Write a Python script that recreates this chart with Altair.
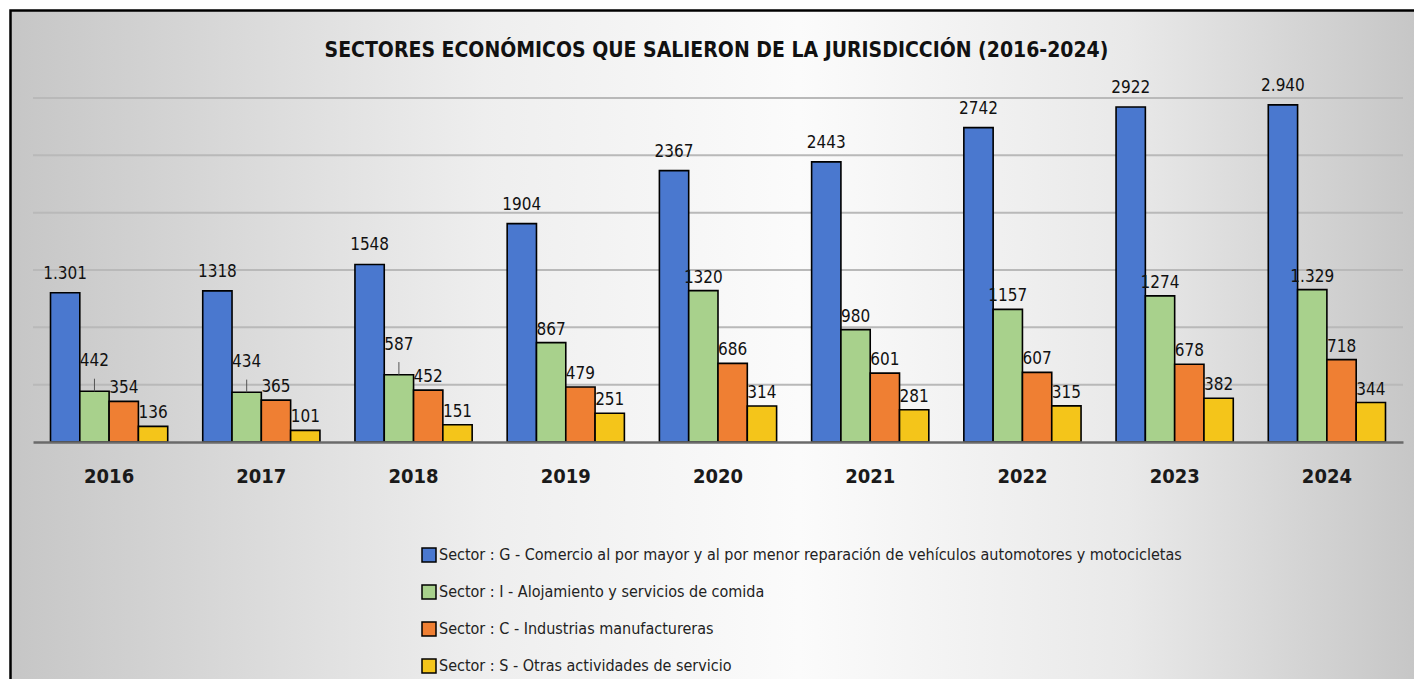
import altair as alt
import pandas as pd

# ---------------- data ----------------
YEARS = ["2016", "2017", "2018", "2019", "2020", "2021", "2022", "2023", "2024"]
SECTORS = [
    "Sector : G - Comercio al por mayor y al por menor  reparación de vehículos automotores y motocicletas",
    "Sector : I - Alojamiento y servicios de comida",
    "Sector : C - Industrias manufactureras",
    "Sector : S - Otras actividades de servicio",
]
SECTOR_G = [1301, 1318, 1548, 1904, 2367, 2443, 2742, 2922, 2940]
SECTOR_I = [442, 434, 587, 867, 1320, 980, 1157, 1274, 1329]
SECTOR_C = [354, 365, 452, 479, 686, 601, 607, 678, 718]
SECTOR_S = [136, 101, 151, 251, 314, 281, 315, 382, 344]
LABEL_G = ["1.301", "1318", "1548", "1904", "2367", "2443", "2742", "2922", "2.940"]
LABEL_I = ["442", "434", "587", "867", "1320", "980", "1157", "1274", "1.329"]
LABEL_C = [str(v) for v in SECTOR_C]
LABEL_S = [str(v) for v in SECTOR_S]
# green labels drawn with a leader line in the original
LEADER_YEARS_I = ["2016", "2017", "2018"]
GRID = [500, 1000, 1500, 2000, 2500, 3000]
TITLE = "SECTORES ECONÓMICOS QUE SALIERON DE LA JURISDICCIÓN (2016-2024)"

COLORS = ["#4a78cf", "#a8d18c", "#ef7f33", "#f4c51a"]
FONT = "'Liberation Sans Narrow', 'Arial Narrow', 'DejaVu Sans Condensed', sans-serif"

rows = []
for si, (sector, vals, labs) in enumerate(zip(SECTORS, [SECTOR_G, SECTOR_I, SECTOR_C, SECTOR_S],
                                              [LABEL_G, LABEL_I, LABEL_C, LABEL_S])):
    for y, v, l in zip(YEARS, vals, labs):
        kind = "normal"
        if si == 0:
            kind = "top"
        elif si == 1 and y in LEADER_YEARS_I:
            kind = "leader"
        rows.append({"year": y, "sector": sector, "value": v, "label": l, "kind": kind})
df = pd.DataFrame(rows)

W, H = 1370, 344

# background panel with gradient and frame
bg = alt.Chart(pd.DataFrame({"k": [0]})).mark_rect(
    fill=alt.LinearGradient(
        gradient="linear",
        stops=[
            alt.GradientStop(color="#c6c6c6", offset=0),
            alt.GradientStop(color="#eeeeee", offset=0.33),
            alt.GradientStop(color="#fbfbfb", offset=0.55),
            alt.GradientStop(color="#e9e9e9", offset=0.78),
            alt.GradientStop(color="#c3c3c3", offset=1),
        ],
        x1=0, x2=1, y1=0, y2=0,
    ),
    stroke="black",
    strokeWidth=2.5,
).encode(
    x=alt.value(-22.5), x2=alt.value(W + 40),
    y=alt.value(-87.5), y2=alt.value(H + 260),
)

yscale = alt.Scale(domain=[0, 3000], nice=False)

grid = alt.Chart(pd.DataFrame({"g": GRID})).mark_rule(
    color="#b9b9b9", strokeWidth=2
).encode(y=alt.Y("g:Q", scale=yscale, axis=None))

base = alt.Chart(df).encode(
    x=alt.X(
        "year:N",
        sort=YEARS,
        scale=alt.Scale(paddingInner=0.23, paddingOuter=0.115),
        axis=alt.Axis(
            title=None, ticks=False, tickSize=0, labelAngle=0,
            labelFont=FONT, labelFontSize=20, labelFontWeight="bold",
            labelColor="#1a1a1a", labelPadding=24,
            domainColor="#6a6a6a", domainWidth=2.5, zindex=1, grid=False,
        ),
    ),
    xOffset=alt.XOffset("sector:N", sort=SECTORS,
                        scale=alt.Scale(paddingInner=0, paddingOuter=0)),
    y=alt.Y("value:Q", scale=yscale, axis=None),
)

bars = base.mark_bar(stroke="black", strokeWidth=1.6).encode(
    color=alt.Color(
        "sector:N",
        sort=SECTORS,
        scale=alt.Scale(domain=SECTORS, range=COLORS),
        legend=alt.Legend(
            title=None, orient="none", legendX=388, legendY=449,
            direction="vertical",
            symbolType="square", symbolSize=196, symbolStrokeColor="black",
            symbolStrokeWidth=1.5, symbolOpacity=1,
            labelFont=FONT, labelFontSize=16, labelColor="#222222",
            labelLimit=0, labelOffset=2, rowPadding=17,
        ),
    )
)

def text_layer(kind, dy):
    return base.transform_filter(alt.datum.kind == kind).mark_text(
        font=FONT, fontSize=17, color="#111111", baseline="alphabetic", dy=dy
    ).encode(text="label:N")

labels_top = text_layer("top", -14)
labels_norm = text_layer("normal", -8)
labels_lead = text_layer("leader", -25)

leaders = base.transform_filter(alt.datum.kind == "leader").transform_calculate(
    lead_top="datum.value + 110"
).mark_rule(color="#555555", strokeWidth=1).encode(
    y=alt.Y("value:Q", scale=yscale, axis=None), y2="lead_top:Q"
)

title = alt.Chart(pd.DataFrame({"t": [TITLE]})).mark_text(
    font=FONT, fontSize=21, fontWeight="bold", color="#111111",
    align="center", baseline="alphabetic",
).encode(x=alt.value(683.5), y=alt.value(-41), text="t:N")

chart = alt.layer(bg, grid, bars, leaders, labels_top, labels_norm, labels_lead, title).properties(
    width=W, height=H,
    padding={"left": 25, "top": 90, "right": 11, "bottom": 237},
    autosize=alt.AutoSizeParams(type="none"),
    background="white",
).configure_view(stroke=None).configure_legend(symbolFillColor=None)

chart.save("out.html", embed_options={"renderer": "svg", "actions": False})
